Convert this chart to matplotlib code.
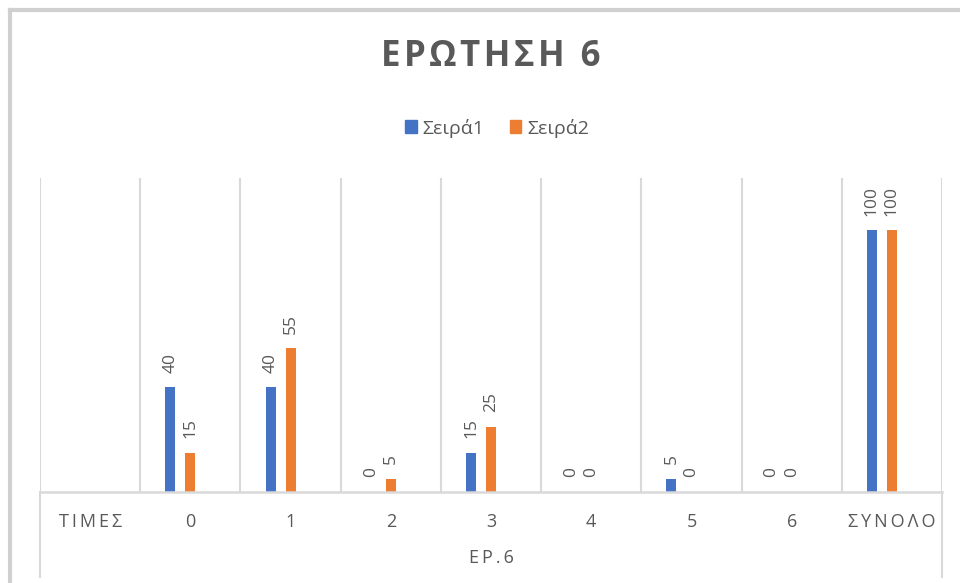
import matplotlib.pyplot as plt
import numpy as np
from matplotlib.lines import Line2D
from matplotlib.patches import Patch

plt.rcParams['font.family'] = ['Open Sans', 'DejaVu Sans']

# Categories and values (first category is just the row header, no bars)
categories = ['ΤΙΜΕΣ', '0', '1', '2', '3', '4', '5', '6', 'ΣΥΝΟΛΟ']
series1 = [np.nan, 40, 40, 0, 15, 0, 5, 0, 100]
series2 = [np.nan, 15, 55, 5, 25, 0, 0, 0, 100]
series_names = ['Σειρά1', 'Σειρά2']

blue = '#4472C4'
orange = '#ED7D31'
txt = '#595959'
grid = '#D9D9D9'


def spaced(s, sep='\u2009'):
    # excel-style letter spacing
    return sep.join(s)


W, H = 960, 583
fig = plt.figure(figsize=(W / 100, H / 100), dpi=100)

# plot area in pixels
left, right, top, base = 40, 942, 178, 492
ax = fig.add_axes([left / W, 1 - base / H, (right - left) / W, (base - top) / H])

x = np.arange(len(categories))
bw = 0.1
ax.bar(x - 0.2, series1, width=bw, color=blue, zorder=3)
ax.bar(x + 0.0, series2, width=bw, color=orange, zorder=3)

for xs, vals in [(x - 0.2, series1), (x + 0.0, series2)]:
    for xi, v in zip(xs, vals):
        if np.isnan(v):
            continue
        ax.annotate(str(int(v)), (xi, v), xytext=(0, 10.5), textcoords='offset points',
                    rotation=90, ha='center', va='bottom', color=txt, fontsize=12.5)

ax.set_xlim(-0.5, len(categories) - 0.5)
ax.set_ylim(0, 120)

# vertical gridlines between categories
for b in np.arange(-0.5, len(categories), 1.0):
    ax.axvline(b, color=grid, lw=1.5, zorder=1)
ax.axhline(0, color=grid, lw=1.8, zorder=4, clip_on=False)

for s in ax.spines.values():
    s.set_visible(False)
ax.set_yticks([])
ax.set_xticks(x)
ax.set_xticklabels([spaced(c) for c in categories], color=txt, fontsize=13)
ax.tick_params(axis='x', length=0, pad=15)
ax.set_xlabel(spaced('ΕΡ.6'), color=txt, fontsize=13, labelpad=13)

# outer edges of the category axis reaching to the bottom of the chart
for px in (left, right):
    fig.add_artist(Line2D([px / W, px / W], [1 - base / H, 1 - 577 / H],
                          color=grid, lw=1.5))

# chart frame
fig.add_artist(Line2D([10 / W, 10 / W], [0, 1 - 10 / H], color='#D0D0D0', lw=3))
fig.add_artist(Line2D([10 / W, 1], [1 - 10 / H, 1 - 10 / H], color='#D0D0D0', lw=3))

fig.text((left + right) / 2 / W, 1 - 57 / H, spaced('ΕΡΩΤΗΣΗ 6', '\u200a'),
         ha='center', va='center', fontsize=25, fontweight='bold', color=txt)

handles = [Patch(color=blue), Patch(color=orange)]
fig.legend(handles, series_names, loc='center', bbox_to_anchor=(497 / W, 1 - 128 / H),
           ncol=2, frameon=False, fontsize=14, labelcolor=txt,
           handlelength=0.6, handleheight=0.6, handletextpad=0.3, columnspacing=1.3)

fig.savefig('out.png', dpi=100)
